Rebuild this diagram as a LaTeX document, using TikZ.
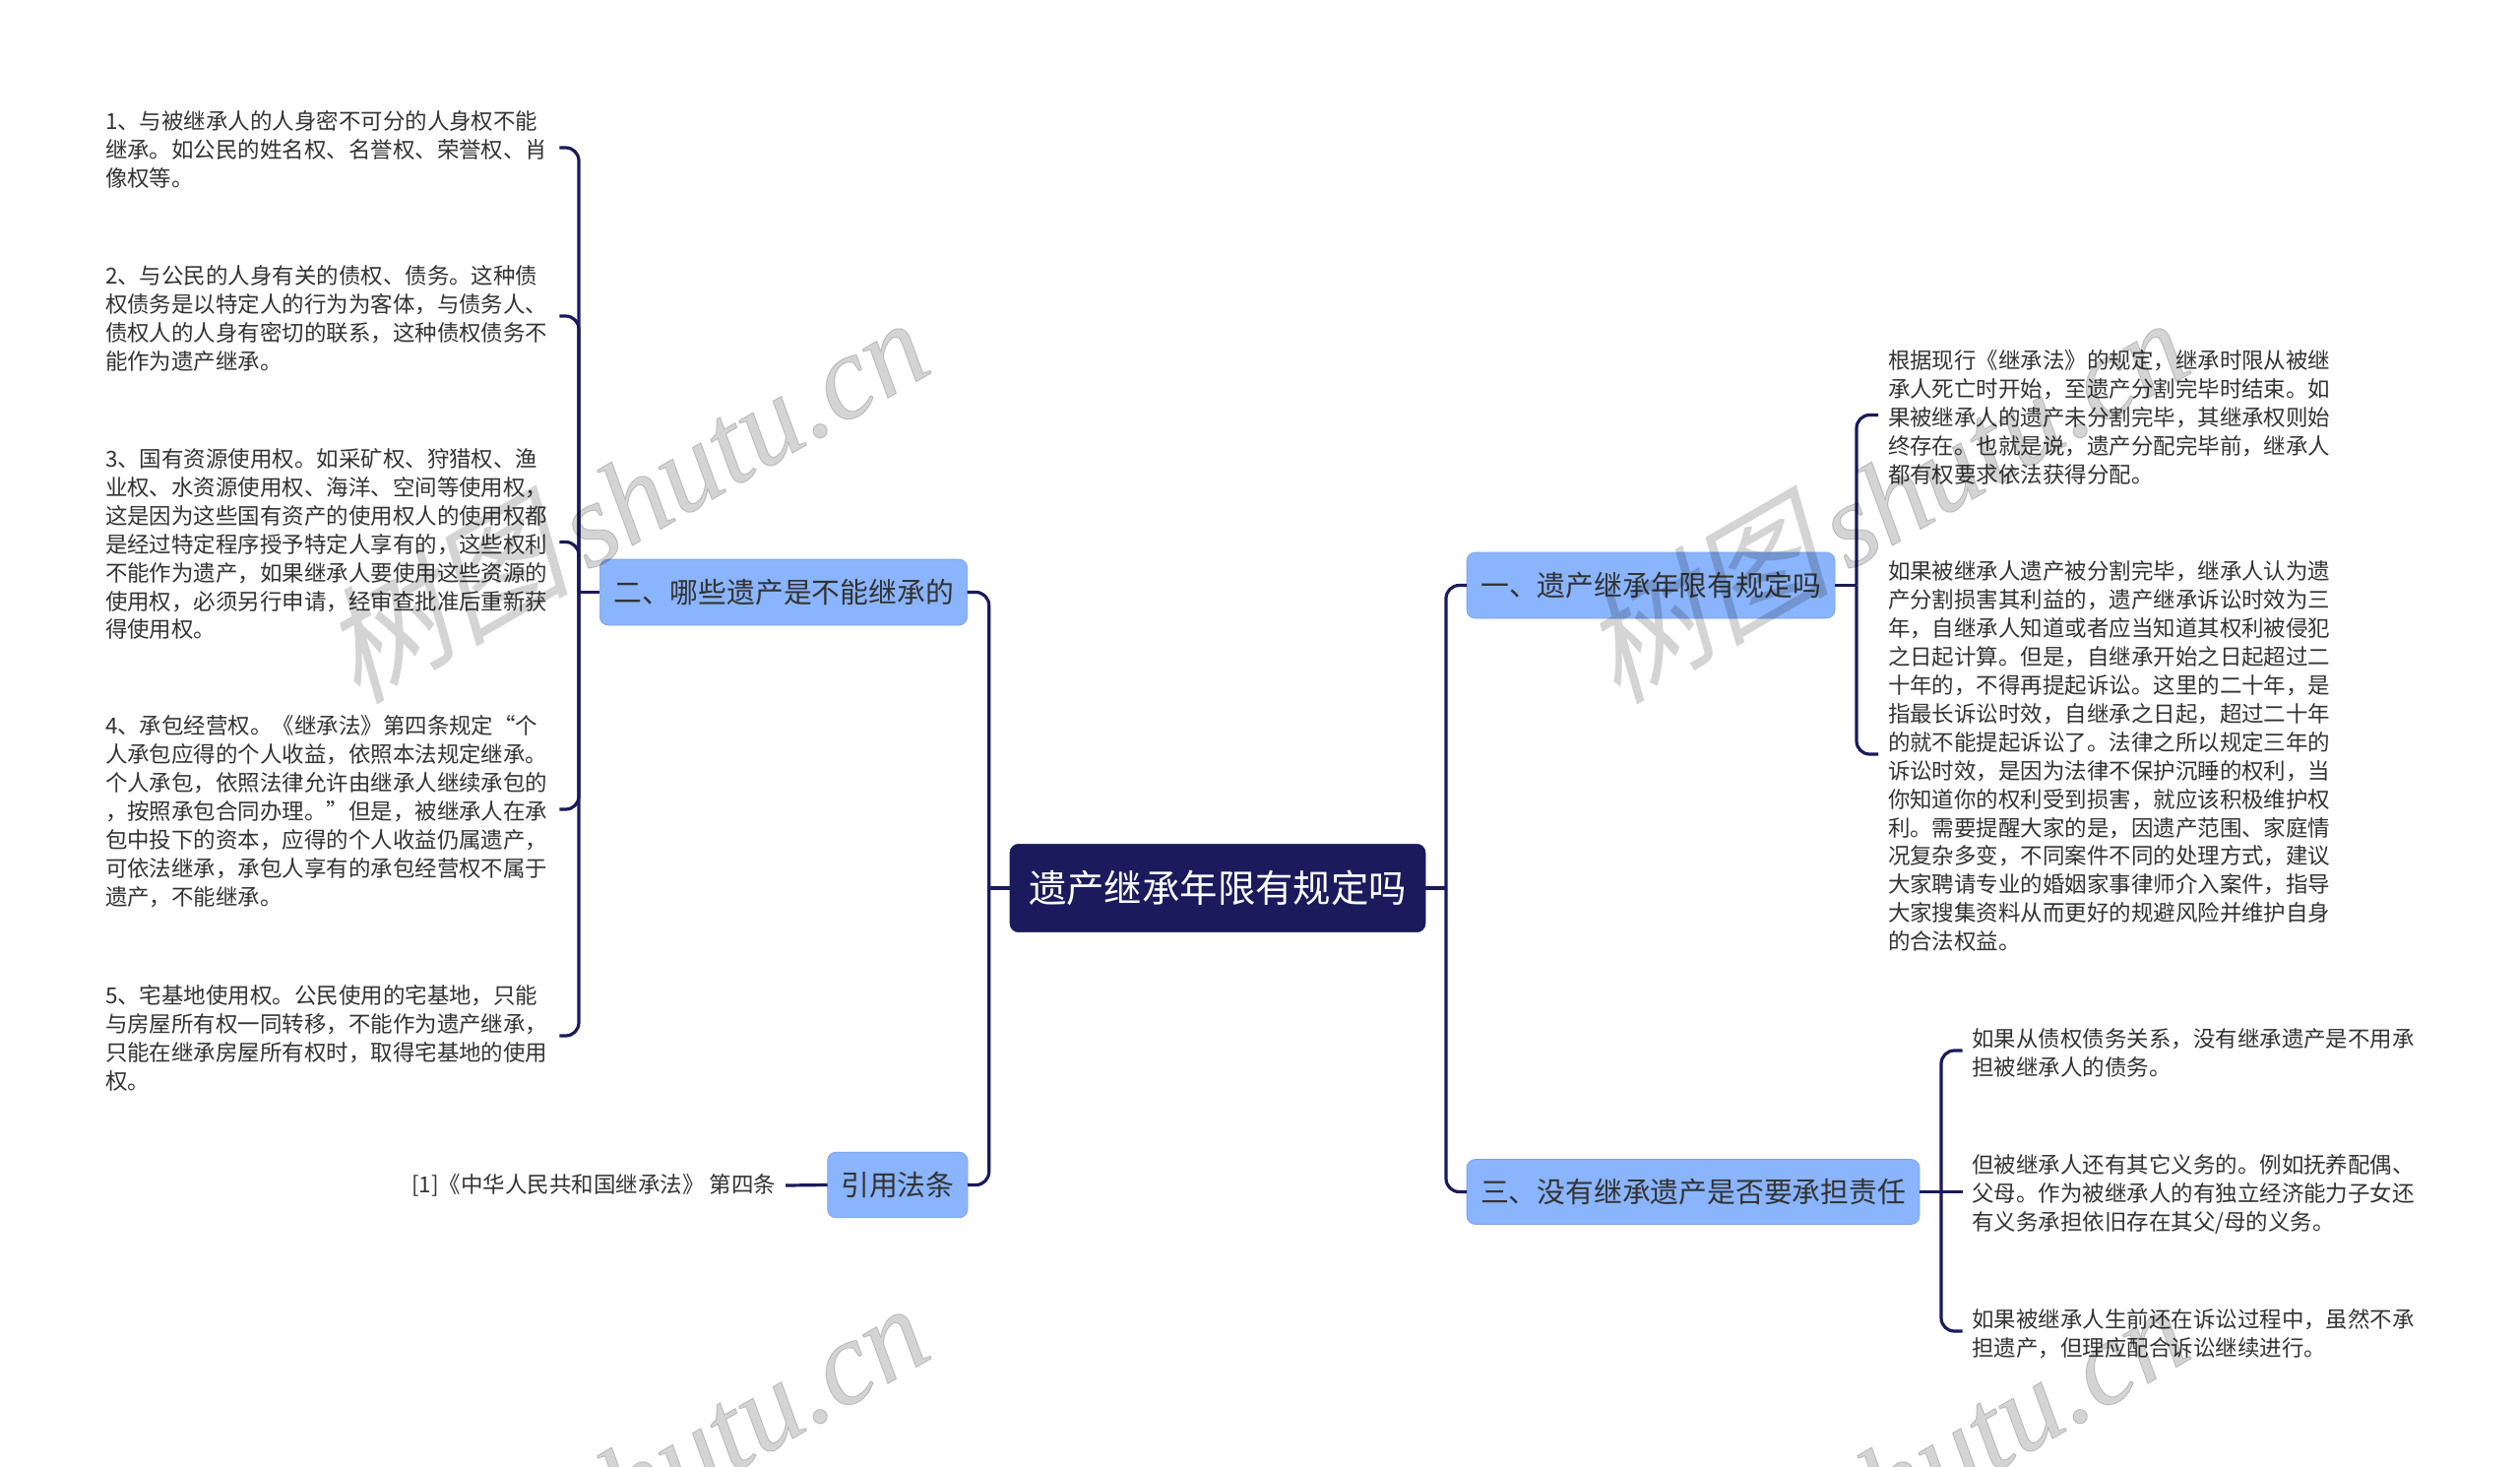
\documentclass[tikz,border=0pt]{standalone}
\usepackage{fontspec}
\setmainfont{Noto Sans CJK SC}
\newfontfamily\wmcjk[FakeSlant=0.25]{Noto Sans CJK SC}
\newfontfamily\wmlat[FakeBold=0.8]{Liberation Serif}
\definecolor{navy}{HTML}{1B1A5C}
\definecolor{topicblue}{HTML}{8AB4FB}
\definecolor{bodytext}{HTML}{333333}
\newcommand{\firststrut}{\rule{0pt}{18pt}}
\newcommand{\laststrut}{\rule[-2pt]{0pt}{2pt}}
\newcommand{\tlabel}[1]{\raisebox{-1.4pt}{#1}}
\tikzset{
  leaf/.style={inner xsep=7.5pt,inner ysep=0pt,outer sep=0pt,text width=338.5pt,align=left,text=bodytext,
    font=\fontsize{16.85}{21.7}\selectfont},
  topic/.style={fill=topicblue,draw=topicblue!90!black,line width=.5pt,rounded corners=6.5pt,inner sep=0pt,outer sep=0pt,
    text=bodytext,font=\fontsize{21.6}{26}\selectfont},
  rootbox/.style={fill=navy,draw=navy,rounded corners=6.5pt,inner sep=0pt,outer sep=0pt,text=white,
    font=\fontsize{28.8}{34}\selectfont},
  conn/.style={draw=navy,line width=2.4pt,rounded corners=10pt},
  wmark/.style={text=black,text opacity=.17,rotate=30,inner sep=0pt,anchor=base east,font=\fontsize{91}{100}\selectfont}
}
\begin{document}
\begin{tikzpicture}[x=0.75pt,y=-0.75pt]
\useasboundingbox (0,0) rectangle (2560,1489);
\fill[white] (0,0) rectangle (2560,1489);

\node[rootbox,minimum width=316.5pt,minimum height=67pt] (root) at (1237,902) {遗产继承年限有规定吗};
\node[topic,minimum width=280pt,minimum height=50.25pt] (n2) at (796,601.5) {\tlabel{二、哪些遗产是不能继承的}};
\node[topic,minimum width=106.8pt,minimum height=50pt] (n4) at (911.8,1203.5) {\tlabel{引用法条}};
\node[topic,minimum width=280.5pt,minimum height=50.25pt] (n1) at (1677,594.5) {\tlabel{一、遗产继承年限有规定吗}};
\node[topic,minimum width=345pt,minimum height=49.5pt] (n3) at (1720,1210.5) {\tlabel{三、没有继承遗产是否要承担责任}};

\node[leaf,anchor=west] (l1) at (97,150) {\firststrut 1、与被继承人的人身密不可分的人身权不能\\继承。如公民的姓名权、名誉权、荣誉权、肖\\像权等。\laststrut};
\node[leaf,anchor=west] (l2) at (97,321) {\firststrut 2、与公民的人身有关的债权、债务。这种债\\权债务是以特定人的行为为客体，与债务人、\\债权人的人身有密切的联系，这种债权债务不\\能作为遗产继承。\laststrut};
\node[leaf,anchor=west] (l3) at (97,550.5) {\firststrut 3、国有资源使用权。如采矿权、狩猎权、渔\\业权、水资源使用权、海洋、空间等使用权，\\这是因为这些国有资产的使用权人的使用权都\\是经过特定程序授予特定人享有的，这些权利\\不能作为遗产，如果继承人要使用这些资源的\\使用权，必须另行申请，经审查批准后重新获\\得使用权。\laststrut};
\node[leaf,anchor=west] (l4) at (97,822) {\firststrut 4、承包经营权。《继承法》第四条规定“个\\人承包应得的个人收益，依照本法规定继承。\\个人承包，依照法律允许由继承人继续承包的\\，按照承包合同办理。”但是，被继承人在承\\包中投下的资本，应得的个人收益仍属遗产，\\可依法继承，承包人享有的承包经营权不属于\\遗产，不能继承。\laststrut};
\node[leaf,anchor=west] (l5) at (97,1052) {\firststrut 5、宅基地使用权。公民使用的宅基地，只能\\与房屋所有权一同转移，不能作为遗产继承，\\只能在继承房屋所有权时，取得宅基地的使用\\权。\laststrut};
\node[anchor=east,inner xsep=7.5pt,inner ysep=0pt,outer sep=0pt,text=bodytext,font=\fontsize{16.85}{21.7}\selectfont] (cite) at (798,1204) {\raisebox{-2.6pt}{[1]《中华人民共和国继承法》 第四条}};

\node[leaf,anchor=west] (r1) at (1908,421.5) {\firststrut 根据现行《继承法》的规定，继承时限从被继\\承人死亡时开始，至遗产分割完毕时结束。如\\果被继承人的遗产未分割完毕，其继承权则始\\终存在。也就是说，遗产分配完毕前，继承人\\都有权要求依法获得分配。\laststrut};
\node[leaf,anchor=west] (r2) at (1908,766) {\firststrut 如果被继承人遗产被分割完毕，继承人认为遗\\产分割损害其利益的，遗产继承诉讼时效为三\\年，自继承人知道或者应当知道其权利被侵犯\\之日起计算。但是，自继承开始之日起超过二\\十年的，不得再提起诉讼。这里的二十年，是\\指最长诉讼时效，自继承之日起，超过二十年\\的就不能提起诉讼了。法律之所以规定三年的\\诉讼时效，是因为法律不保护沉睡的权利，当\\你知道你的权利受到损害，就应该积极维护权\\利。需要提醒大家的是，因遗产范围、家庭情\\况复杂多变，不同案件不同的处理方式，建议\\大家聘请专业的婚姻家事律师介入案件，指导\\大家搜集资料从而更好的规避风险并维护自身\\的合法权益。\laststrut};
\node[leaf,anchor=west] (r3) at (1993.5,1067) {\firststrut 如果从债权债务关系，没有继承遗产是不用承\\担被继承人的债务。\laststrut};
\node[leaf,anchor=west] (r4) at (1993.5,1210.5) {\firststrut 但被继承人还有其它义务的。例如抚养配偶、\\父母。作为被继承人的有独立经济能力子女还\\有义务承担依旧存在其父/母的义务。\laststrut};
\node[leaf,anchor=west] (r5) at (1993.5,1352) {\firststrut 如果被继承人生前还在诉讼过程中，虽然不承\\担遗产，但理应配合诉讼继续进行。\laststrut};

\coordinate (sc) at (1004.7,0);
\coordinate (sr) at (1469,0);
\coordinate (sl) at (588,0);
\coordinate (sa) at (1886,0);
\coordinate (sb) at (1972,0);

% root
\draw[conn] (root.west) -- (sc |- root.west);
\draw[conn] (root.east) -- (sr |- root.east);
\draw[conn] (n2.east) -- (sc |- n2.east) -- (sc |- root.west);
\draw[conn] (n4.east) -- (sc |- n4.east) -- (sc |- root.west);
\draw[conn] (n1.west) -- (sr |- n1.west) -- (sr |- root.east);
\draw[conn] (n3.west) -- (sr |- n3.west) -- (sr |- root.east);
% left leaves
\draw[conn] (n2.west) -- (sl |- n2.west);
\foreach \k in {l1,l2,l3,l4,l5}{\draw[conn] (\k.east) -- (sl |- \k.east) -- (sl |- n2.west);}
\draw[conn] (n4.west) -- (cite.east);
% right leaves
\draw[conn] (n1.east) -- (sa |- n1.east);
\foreach \k in {r1,r2}{\draw[conn] (\k.west) -- (sa |- \k.west) -- (sa |- n1.east);}
\draw[conn] (n3.east) -- (r4.west);
\foreach \k in {r3,r5}{\draw[conn] (\k.west) -- (sb |- \k.west) -- (sb |- n3.east);}

% watermarks
\foreach \n/\px/\py in {wa/951/376,wb/2231/376,wc/951/1377,wd/2231/1377}{
  \node[wmark] (\n) at (\px,\py) {{\fontsize{96}{96}\selectfont\wmcjk 树图}\hspace{12pt}{\wmlat\itshape shutu.cn}};
}
\end{tikzpicture}
\end{document}
